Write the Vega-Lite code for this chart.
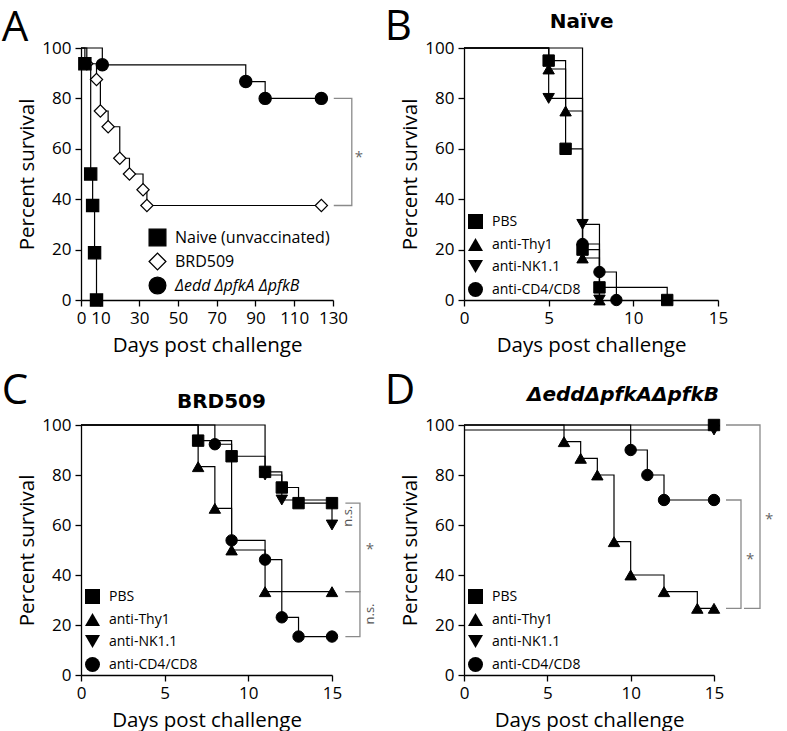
{
  "$schema": "https://vega.github.io/schema/vega-lite/v6.json",
  "padding": {"left": 1, "top": 5, "right": 5, "bottom": 5},
  "config": {
    "font": "Open Sans",
    "view": {"stroke": null},
    "axis": {"grid": false, "domainColor": "black", "domainWidth": 1.3, "tickColor": "black", "tickWidth": 1.3, "tickSize": 6, "labelFontSize": 17, "labelColor": "black", "labelPadding": 4, "titleFontSize": 20.5, "titleFontWeight": "normal", "titleColor": "black", "labelFlush": false, "labelOverlap": false},
    "axisX": {"titlePadding": 9},
    "axisY": {"titlePadding": 4},
    "title": {"fontSize": 42, "fontWeight": "normal", "anchor": "start", "frame": "bounds", "offset": -7.5, "dx": -16, "color": "black", "font": "Open Sans"},
    "legend": {"padding": 0, "labelColor": "black", "labelLimit": 300, "labelOffset": 8, "symbolStrokeColor": "black"}
  },
  "datasets": {
    "a": [
      {"g": "BRD509", "t": 0, "s": 100, "m": 0},
      {"g": "BRD509", "t": 3, "s": 93.75, "m": 1},
      {"g": "BRD509", "t": 8, "s": 87.5, "m": 1},
      {"g": "BRD509", "t": 10, "s": 75, "m": 1},
      {"g": "BRD509", "t": 14, "s": 68.75, "m": 1},
      {"g": "BRD509", "t": 20, "s": 56.25, "m": 1},
      {"g": "BRD509", "t": 25, "s": 50, "m": 1},
      {"g": "BRD509", "t": 32, "s": 43.75, "m": 1},
      {"g": "BRD509", "t": 34, "s": 37.5, "m": 1},
      {"g": "BRD509", "t": 124, "s": 37.5, "m": 1},
      {"g": "Naive (unvaccinated)", "t": 0, "s": 100, "m": 0},
      {"g": "Naive (unvaccinated)", "t": 2, "s": 93.75, "m": 1},
      {"g": "Naive (unvaccinated)", "t": 5, "s": 50, "m": 1},
      {"g": "Naive (unvaccinated)", "t": 6, "s": 37.5, "m": 1},
      {"g": "Naive (unvaccinated)", "t": 7, "s": 18.75, "m": 1},
      {"g": "Naive (unvaccinated)", "t": 8, "s": 0, "m": 1},
      {"g": "Δedd ΔpfkA ΔpfkB", "t": 0, "s": 100, "m": 0},
      {"g": "Δedd ΔpfkA ΔpfkB", "t": 11, "s": 93.33, "m": 1},
      {"g": "Δedd ΔpfkA ΔpfkB", "t": 85, "s": 86.67, "m": 1},
      {"g": "Δedd ΔpfkA ΔpfkB", "t": 95, "s": 80, "m": 1},
      {"g": "Δedd ΔpfkA ΔpfkB", "t": 124, "s": 80, "m": 1}
    ],
    "b": [
      {"g": "PBS", "t": 0, "s": 100, "m": 0},
      {"g": "PBS", "t": 5, "s": 95, "m": 1},
      {"g": "PBS", "t": 6, "s": 60, "m": 1},
      {"g": "PBS", "t": 7, "s": 20, "m": 1},
      {"g": "PBS", "t": 8, "s": 5, "m": 1},
      {"g": "PBS", "t": 12, "s": 0, "m": 1},
      {"g": "anti-Thy1", "t": 0, "s": 100, "m": 0},
      {"g": "anti-Thy1", "t": 5, "s": 91.67, "m": 1},
      {"g": "anti-Thy1", "t": 6, "s": 75, "m": 1},
      {"g": "anti-Thy1", "t": 7, "s": 16.67, "m": 1},
      {"g": "anti-Thy1", "t": 8, "s": 0, "m": 1},
      {"g": "anti-NK1.1", "t": 0, "s": 100, "m": 0},
      {"g": "anti-NK1.1", "t": 5, "s": 80, "m": 1},
      {"g": "anti-NK1.1", "t": 7, "s": 30, "m": 1},
      {"g": "anti-NK1.1", "t": 8, "s": 0, "m": 1},
      {"g": "anti-CD4/CD8", "t": 0, "s": 100, "m": 0},
      {"g": "anti-CD4/CD8", "t": 7, "s": 22.22, "m": 1},
      {"g": "anti-CD4/CD8", "t": 8, "s": 11.11, "m": 1},
      {"g": "anti-CD4/CD8", "t": 9, "s": 0, "m": 1}
    ],
    "c": [
      {"g": "PBS", "t": 0, "s": 100, "m": 0},
      {"g": "PBS", "t": 7, "s": 93.75, "m": 1},
      {"g": "PBS", "t": 9, "s": 87.5, "m": 1},
      {"g": "PBS", "t": 11, "s": 81.25, "m": 1},
      {"g": "PBS", "t": 12, "s": 75, "m": 1},
      {"g": "PBS", "t": 13, "s": 68.75, "m": 1},
      {"g": "PBS", "t": 15, "s": 68.75, "m": 1},
      {"g": "anti-Thy1", "t": 0, "s": 100, "m": 0},
      {"g": "anti-Thy1", "t": 7, "s": 83.33, "m": 1},
      {"g": "anti-Thy1", "t": 8, "s": 66.67, "m": 1},
      {"g": "anti-Thy1", "t": 9, "s": 50, "m": 1},
      {"g": "anti-Thy1", "t": 11, "s": 33.33, "m": 1},
      {"g": "anti-Thy1", "t": 15, "s": 33.33, "m": 1},
      {"g": "anti-NK1.1", "t": 0, "s": 100, "m": 0},
      {"g": "anti-NK1.1", "t": 11, "s": 80, "m": 1},
      {"g": "anti-NK1.1", "t": 12, "s": 70, "m": 1},
      {"g": "anti-NK1.1", "t": 15, "s": 60, "m": 1},
      {"g": "anti-CD4/CD8", "t": 0, "s": 100, "m": 0},
      {"g": "anti-CD4/CD8", "t": 8, "s": 92.31, "m": 1},
      {"g": "anti-CD4/CD8", "t": 9, "s": 53.85, "m": 1},
      {"g": "anti-CD4/CD8", "t": 11, "s": 46.15, "m": 1},
      {"g": "anti-CD4/CD8", "t": 12, "s": 23.08, "m": 1},
      {"g": "anti-CD4/CD8", "t": 13, "s": 15.38, "m": 1},
      {"g": "anti-CD4/CD8", "t": 15, "s": 15.38, "m": 1}
    ],
    "d": [
      {"g": "PBS", "t": 0, "s": 100, "m": 0},
      {"g": "PBS", "t": 15, "s": 100, "m": 1},
      {"g": "anti-NK1.1", "t": 0, "s": 98, "m": 0},
      {"g": "anti-NK1.1", "t": 15, "s": 98, "m": 1},
      {"g": "anti-Thy1", "t": 0, "s": 100, "m": 0},
      {"g": "anti-Thy1", "t": 6, "s": 93.33, "m": 1},
      {"g": "anti-Thy1", "t": 7, "s": 86.67, "m": 1},
      {"g": "anti-Thy1", "t": 8, "s": 80, "m": 1},
      {"g": "anti-Thy1", "t": 9, "s": 53.33, "m": 1},
      {"g": "anti-Thy1", "t": 10, "s": 40, "m": 1},
      {"g": "anti-Thy1", "t": 12, "s": 33.33, "m": 1},
      {"g": "anti-Thy1", "t": 14, "s": 26.67, "m": 1},
      {"g": "anti-Thy1", "t": 15, "s": 26.67, "m": 1},
      {"g": "anti-CD4/CD8", "t": 0, "s": 100, "m": 0},
      {"g": "anti-CD4/CD8", "t": 10, "s": 90, "m": 1},
      {"g": "anti-CD4/CD8", "t": 11, "s": 80, "m": 1},
      {"g": "anti-CD4/CD8", "t": 12, "s": 70, "m": 1},
      {"g": "anti-CD4/CD8", "t": 15, "s": 70, "m": 1}
    ],
    "a_br": [
      {"b": 1, "i": 1, "t": 130.4, "s": 80},
      {"b": 1, "i": 2, "t": 139.7, "s": 80},
      {"b": 1, "i": 3, "t": 139.7, "s": 37.5},
      {"b": 1, "i": 4, "t": 130.4, "s": 37.5}
    ],
    "a_star": [{"label": "*", "t": 143.4, "s": 58.3}],
    "c_br": [
      {"b": 1, "i": 1, "t": 15.8, "s": 68.75},
      {"b": 1, "i": 2, "t": 16.67, "s": 68.75},
      {"b": 1, "i": 3, "t": 16.67, "s": 33.33},
      {"b": 1, "i": 4, "t": 15.8, "s": 33.33},
      {"b": 2, "i": 1, "t": 15.8, "s": 33.33},
      {"b": 2, "i": 2, "t": 16.67, "s": 33.33},
      {"b": 2, "i": 3, "t": 16.67, "s": 15.38},
      {"b": 2, "i": 4, "t": 15.8, "s": 15.38}
    ],
    "c_star": [{"label": "*", "t": 17.26, "s": 52}],
    "c_ns": [
      {"label": "n.s.", "t": 15.95, "s": 63.5},
      {"label": "n.s.", "t": 17.3, "s": 24.4}
    ],
    "d_br": [
      {"b": 1, "i": 1, "t": 15.72, "s": 100},
      {"b": 1, "i": 2, "t": 17.76, "s": 100},
      {"b": 1, "i": 3, "t": 17.76, "s": 26.67},
      {"b": 1, "i": 4, "t": 16.8, "s": 26.67},
      {"b": 2, "i": 1, "t": 15.72, "s": 70},
      {"b": 2, "i": 2, "t": 16.62, "s": 70},
      {"b": 2, "i": 3, "t": 16.62, "s": 26.67},
      {"b": 2, "i": 4, "t": 15.72, "s": 26.67}
    ],
    "d_star": [
      {"label": "*", "t": 18.3, "s": 64.2},
      {"label": "*", "t": 17.16, "s": 48.1}
    ],
    "b_head": [{"label": "Naïve", "t": 6.95, "s": 107.9}],
    "c_head": [{"label": "BRD509", "t": 8.39, "s": 106.7}],
    "d_head": [{"label": "ΔeddΔpfkAΔpfkB", "t": 9.54, "s": 109.6}]
  },
  "columns": 2,
  "spacing": {"row": 125, "column": 131},
  "bounds": "flush",
  "resolve": {"scale": {"x": "independent", "y": "independent", "shape": "independent", "fill": "independent", "stroke": "independent"}, "legend": {"shape": "independent", "fill": "independent", "stroke": "independent"}},
  "concat": [
    {
      "title": {"text": "A", "offset": -10.5},
      "width": 252,
      "height": 252,
      "encoding": {
        "x": {"field": "t", "type": "quantitative", "scale": {"domain": [0, 130], "nice": false}, "axis": {"values": [0, 10, 30, 50, 70, 90, 110, 130], "title": "Days post challenge", "labelOverlap": false, "labelFlush": false, "labelBound": false}},
        "y": {"field": "s", "type": "quantitative", "scale": {"domain": [0, 100], "nice": false}, "axis": {"values": [0, 20, 40, 60, 80, 100], "title": "Percent survival", "labelOverlap": false}}
      },
      "layer": [
        {
          "data": {"name": "a"},
          "mark": {"type": "line", "interpolate": "step-after", "color": "black", "strokeWidth": 1.2, "clip": false},
          "encoding": {"detail": {"field": "g"}}
        },
        {
          "data": {"name": "a"},
          "transform": [{"filter": "datum.m == 1"}],
          "mark": {"type": "point", "filled": true, "strokeWidth": 1.2, "size": 150, "opacity": 1, "clip": false},
          "encoding": {
            "shape": {"field": "g", "type": "nominal", "scale": {"domain": ["Naive (unvaccinated)", "BRD509", "Δedd ΔpfkA ΔpfkB"], "range": ["square", "diamond", "circle"]},
              "legend": {"title": null, "orient": "bottom-right", "offset": 3, "labelFontSize": 16, "symbolSize": 280, "rowPadding": 1, "symbolStrokeWidth": 1.3, "labelFontStyle": {"expr": "indexof(datum.label, 'Δ') >= 0 ? 'italic' : 'normal'"}}},
            "fill": {"field": "g", "type": "nominal", "scale": {"domain": ["Naive (unvaccinated)", "BRD509", "Δedd ΔpfkA ΔpfkB"], "range": ["black", "white", "black"]},
              "legend": {"title": null, "orient": "bottom-right", "offset": 3, "labelFontSize": 16, "symbolSize": 280, "rowPadding": 1, "symbolStrokeWidth": 1.3, "labelFontStyle": {"expr": "indexof(datum.label, 'Δ') >= 0 ? 'italic' : 'normal'"}}},
            "stroke": {"field": "g", "type": "nominal", "scale": {"domain": ["Naive (unvaccinated)", "BRD509", "Δedd ΔpfkA ΔpfkB"], "range": ["black", "black", "black"]},
              "legend": {"title": null, "orient": "bottom-right", "offset": 3, "labelFontSize": 16, "symbolSize": 280, "rowPadding": 1, "symbolStrokeWidth": 1.3, "labelFontStyle": {"expr": "indexof(datum.label, 'Δ') >= 0 ? 'italic' : 'normal'"}}}
          }
        },
        {
          "data": {"name": "a_br"},
          "mark": {"type": "line", "color": "#8a8a8a", "strokeWidth": 1.3, "clip": false},
          "encoding": {"detail": {"field": "b"}, "order": {"field": "i"}}
        },
        {
          "data": {"name": "a_star"},
          "mark": {"type": "text", "fontSize": 15, "color": "#666666", "baseline": "alphabetic", "align": "center", "dy": 9, "clip": false},
          "encoding": {"text": {"field": "label"}}
        }
      ]
    },
    {
      "title": {"text": "B", "offset": -36.5},
      "width": 254,
      "height": 252,
      "encoding": {
        "x": {"field": "t", "type": "quantitative", "scale": {"domain": [0, 15], "nice": false}, "axis": {"values": [0, 5, 10, 15], "title": "Days post challenge", "labelOverlap": false, "labelFlush": false}},
        "y": {"field": "s", "type": "quantitative", "scale": {"domain": [0, 100], "nice": false}, "axis": {"values": [0, 20, 40, 60, 80, 100], "title": "Percent survival", "labelOverlap": false}}
      },
      "layer": [
        {
          "data": {"name": "b"},
          "mark": {"type": "line", "interpolate": "step-after", "color": "black", "strokeWidth": 1.2, "clip": false},
          "encoding": {"detail": {"field": "g"}}
        },
        {
          "data": {"name": "b"},
          "transform": [{"filter": "datum.m == 1"}],
          "mark": {"type": "point", "filled": true, "fill": "black", "stroke": "black", "strokeWidth": 1, "size": 130, "opacity": 1, "clip": false},
          "encoding": {
            "shape": {"field": "g", "type": "nominal", "scale": {"domain": ["PBS", "anti-Thy1", "anti-NK1.1", "anti-CD4/CD8"], "range": ["square", "triangle-up", "triangle-down", "circle"]},
              "legend": {"title": null, "orient": "bottom-left", "offset": 0, "symbolOffset": 3, "labelFontSize": 14, "symbolSize": 225, "rowPadding": 3, "symbolFillColor": "black", "symbolStrokeColor": "black"}}
          }
        },
        {
          "data": {"name": "b_head"},
          "mark": {"type": "text", "font": "DejaVu Sans", "fontWeight": "bold", "fontSize": 20, "color": "black", "baseline": "alphabetic", "align": "center", "clip": false},
          "encoding": {"text": {"field": "label"}}
        }
      ]
    },
    {
      "title": {"text": "C", "offset": -21},
      "width": 251,
      "height": 250,
      "encoding": {
        "x": {"field": "t", "type": "quantitative", "scale": {"domain": [0, 15], "nice": false}, "axis": {"values": [0, 5, 10, 15], "title": "Days post challenge", "labelOverlap": false, "labelFlush": false}},
        "y": {"field": "s", "type": "quantitative", "scale": {"domain": [0, 100], "nice": false}, "axis": {"values": [0, 20, 40, 60, 80, 100], "title": "Percent survival", "labelOverlap": false}}
      },
      "layer": [
        {
          "data": {"name": "c"},
          "mark": {"type": "line", "interpolate": "step-after", "color": "black", "strokeWidth": 1.2, "clip": false},
          "encoding": {"detail": {"field": "g"}}
        },
        {
          "data": {"name": "c"},
          "transform": [{"filter": "datum.m == 1"}],
          "mark": {"type": "point", "filled": true, "fill": "black", "stroke": "black", "strokeWidth": 1, "size": 130, "opacity": 1, "clip": false},
          "encoding": {
            "shape": {"field": "g", "type": "nominal", "scale": {"domain": ["PBS", "anti-Thy1", "anti-NK1.1", "anti-CD4/CD8"], "range": ["square", "triangle-up", "triangle-down", "circle"]},
              "legend": {"title": null, "orient": "bottom-left", "offset": 0, "symbolOffset": 3, "labelFontSize": 14, "symbolSize": 225, "rowPadding": 3, "symbolFillColor": "black", "symbolStrokeColor": "black"}}
          }
        },
        {
          "data": {"name": "c_br"},
          "mark": {"type": "line", "color": "#8a8a8a", "strokeWidth": 1.3, "clip": false},
          "encoding": {"detail": {"field": "b"}, "order": {"field": "i"}}
        },
        {
          "data": {"name": "c_star"},
          "mark": {"type": "text", "fontSize": 15, "color": "#666666", "baseline": "alphabetic", "align": "center", "dy": 9, "clip": false},
          "encoding": {"text": {"field": "label"}}
        },
        {
          "data": {"name": "c_ns"},
          "mark": {"type": "text", "fontSize": 13, "color": "#555555", "baseline": "middle", "align": "center", "angle": 270, "clip": false},
          "encoding": {"text": {"field": "label"}}
        },
        {
          "data": {"name": "c_head"},
          "mark": {"type": "text", "font": "DejaVu Sans", "fontWeight": "bold", "fontSize": 20, "color": "black", "baseline": "alphabetic", "align": "center", "clip": false},
          "encoding": {"text": {"field": "label"}}
        }
      ]
    },
    {
      "title": {"text": "D", "offset": -28},
      "width": 250,
      "height": 250,
      "encoding": {
        "x": {"field": "t", "type": "quantitative", "scale": {"domain": [0, 15], "nice": false}, "axis": {"values": [0, 5, 10, 15], "title": "Days post challenge", "labelOverlap": false, "labelFlush": false}},
        "y": {"field": "s", "type": "quantitative", "scale": {"domain": [0, 100], "nice": false}, "axis": {"values": [0, 20, 40, 60, 80, 100], "title": "Percent survival", "labelOverlap": false}}
      },
      "layer": [
        {
          "data": {"name": "d"},
          "mark": {"type": "line", "interpolate": "step-after", "color": "black", "strokeWidth": 1.2, "clip": false},
          "encoding": {"detail": {"field": "g"}}
        },
        {
          "data": {"name": "d"},
          "transform": [{"filter": "datum.m == 1"}],
          "mark": {"type": "point", "filled": true, "fill": "black", "stroke": "black", "strokeWidth": 1, "size": 130, "opacity": 1, "clip": false},
          "encoding": {
            "shape": {"field": "g", "type": "nominal", "scale": {"domain": ["PBS", "anti-Thy1", "anti-NK1.1", "anti-CD4/CD8"], "range": ["square", "triangle-up", "triangle-down", "circle"]},
              "legend": {"title": null, "orient": "bottom-left", "offset": 0, "symbolOffset": 3, "labelFontSize": 14, "symbolSize": 225, "rowPadding": 3, "symbolFillColor": "black", "symbolStrokeColor": "black"}}
          }
        },
        {
          "data": {"name": "d_br"},
          "mark": {"type": "line", "color": "#8a8a8a", "strokeWidth": 1.3, "clip": false},
          "encoding": {"detail": {"field": "b"}, "order": {"field": "i"}}
        },
        {
          "data": {"name": "d_star"},
          "mark": {"type": "text", "fontSize": 15, "color": "#666666", "baseline": "alphabetic", "align": "center", "dy": 9, "clip": false},
          "encoding": {"text": {"field": "label"}}
        },
        {
          "data": {"name": "d_head"},
          "mark": {"type": "text", "font": "DejaVu Sans", "fontWeight": "bold", "fontStyle": "italic", "fontSize": 20, "color": "black", "baseline": "alphabetic", "align": "center", "clip": false},
          "encoding": {"text": {"field": "label"}}
        }
      ]
    }
  ]
}
